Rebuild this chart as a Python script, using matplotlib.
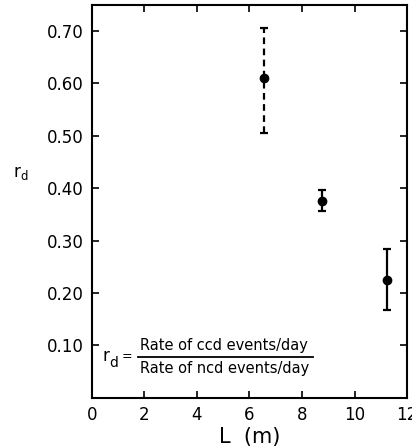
import matplotlib.pyplot as plt

L_m = [6.55, 8.75, 11.22]
r_d = [0.61, 0.376, 0.225]
err_lo = [0.505, 0.357, 0.168]
err_hi = [0.705, 0.397, 0.285]
dashed = [True, False, False]

xticks = [0, 2, 4, 6, 8, 10, 12]
yticks = [0.10, 0.20, 0.30, 0.40, 0.50, 0.60, 0.70]


def main():
    plt.rcParams['font.family'] = 'DejaVu Sans'
    fig = plt.figure(figsize=(4.12, 4.47), dpi=100)
    ax = fig.add_axes([0.223, 0.11, 0.765, 0.879])

    for x, y, lo, hi, d in zip(L_m, r_d, err_lo, err_hi, dashed):
        eb = ax.errorbar([x], [y], yerr=[[y - lo], [hi - y]], fmt='o', color='black',
                         ms=6, elinewidth=1.6, capsize=3, capthick=1.6)
        if d:
            eb[2][0].set_linestyle((0, (3, 2)))

    ax.set_xlim(0, 12)
    ax.set_ylim(0, 0.75)
    ax.set_xticks(xticks)
    ax.set_yticks(yticks)
    ax.set_xticklabels([str(t) for t in xticks])
    ax.set_yticklabels(['%.2f' % t for t in yticks])
    ax.tick_params(direction='in', top=True, right=True, length=5, width=1.2,
                   labelsize=12, pad=6)
    for s in ax.spines.values():
        s.set_linewidth(1.5)

    ax.set_xlabel('L  (m)', fontsize=15, labelpad=2)
    ax.set_ylabel('$\\mathregular{r_d}$', fontsize=12, rotation=0)
    ax.yaxis.set_label_coords(-0.225, 0.55)

    # formula in the lower left
    ax.text(0.035, 0.106, 'r', transform=ax.transAxes, fontsize=12, ha='left', va='center')
    ax.text(0.055, 0.088, 'd', transform=ax.transAxes, fontsize=10, ha='left', va='center')
    ax.text(0.095, 0.104, '=', transform=ax.transAxes, fontsize=9, ha='left', va='center')
    ax.text(0.152, 0.133, 'Rate of ccd events/day', transform=ax.transAxes,
            fontsize=10.5, ha='left', va='center')
    ax.text(0.152, 0.074, 'Rate of ncd events/day', transform=ax.transAxes,
            fontsize=10.5, ha='left', va='center')
    ax.plot([0.145, 0.70], [0.104, 0.104], transform=ax.transAxes, color='black', lw=1.3)

    fig.savefig('out.png', dpi=100)


if __name__ == '__main__':
    main()
